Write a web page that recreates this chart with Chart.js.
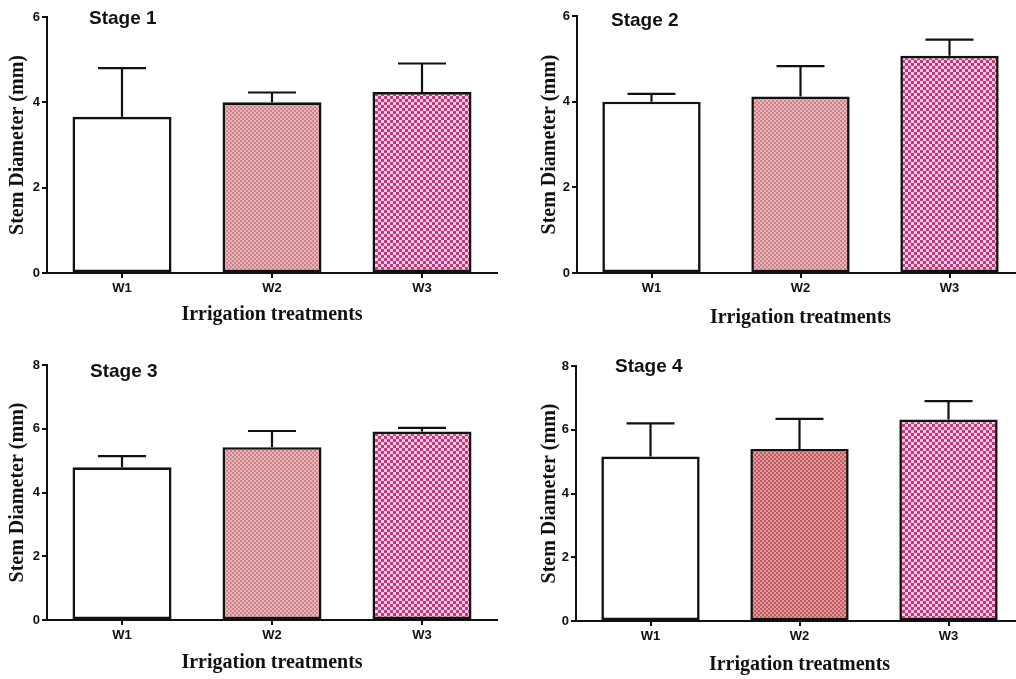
<!DOCTYPE html>
<html>
<head>
<meta charset="utf-8">
<script src="https://cdn.jsdelivr.net/npm/chart.js@4.4.1/dist/chart.umd.min.js"></script>
<style>
  html, body { margin: 0; padding: 0; background: #fff; overflow: hidden; width: 1016px; height: 679px; }
  .panel { position: absolute; }
</style>
</head>
<body>
<div class="panel" style="left:0;top:0;width:500px;height:330px"><canvas id="c1"></canvas></div>
<div class="panel" style="left:500px;top:0;width:530px;height:330px"><canvas id="c2"></canvas></div>
<div class="panel" style="left:0;top:340px;width:500px;height:339px"><canvas id="c3"></canvas></div>
<div class="panel" style="left:500px;top:340px;width:530px;height:339px"><canvas id="c4"></canvas></div>
<script>
// ---- data ----
const categories = ['W1', 'W2', 'W3'];
const stageTitles = ['Stage 1', 'Stage 2', 'Stage 3', 'Stage 4'];
const stage1Mean = [3.66, 4.00, 4.24];
const stage1SD   = [1.14, 0.23, 0.67];
const stage2Mean = [4.00, 4.12, 5.07];
const stage2SD   = [0.18, 0.71, 0.38];
const stage3Mean = [4.79, 5.42, 5.91];
const stage3SD   = [0.35, 0.51, 0.12];
const stage4Mean = [5.16, 5.40, 6.32];
const stage4SD   = [1.04, 0.94, 0.58];
const stageYMax  = [6, 6, 8, 8];
const yStep = 2;
const yTitle = 'Stem Diameter (mm)';
const xTitle = 'Irrigation treatments';

// ---- layout / style ----
const layouts = [
  { id: 'c1', w: 500, h: 330, pad: { left: 6, top: 17, right: 3, bottom: 3 }, yW: 41, xH: 54, tx: 42, ty: 24 },
  { id: 'c2', w: 530, h: 330, pad: { left: 38, top: 16, right: 6, bottom: 0 }, yW: 39, xH: 57, tx: 34, ty: 26 },
  { id: 'c3', w: 500, h: 339, pad: { left: 6, top: 25, right: 3, bottom: 4 }, yW: 41, xH: 55, tx: 43, ty: 37 },
  { id: 'c4', w: 530, h: 339, pad: { left: 38, top: 26, right: 7, bottom: 2 }, yW: 38, xH: 56, tx: 39, ty: 32 }
];

function checker(c1, c2, size) {
  const cv = document.createElement('canvas');
  cv.width = size * 2; cv.height = size * 2;
  const g = cv.getContext('2d');
  g.fillStyle = c1; g.fillRect(0, 0, size * 2, size * 2);
  g.fillStyle = c2; g.fillRect(0, 0, size, size); g.fillRect(size, size, size, size);
  return g.createPattern(cv, 'repeat');
}

const fillW1 = '#ffffff';
const fillW2 = checker('#eab4b8', '#c9838a', 2);
const fillW2dark = checker('#e39a9c', '#bf5a5f', 2);
const fillW3 = checker('#f8cce6', '#bf3a7a', 3);

const means = [stage1Mean, stage2Mean, stage3Mean, stage4Mean];
const sds = [stage1SD, stage2SD, stage3SD, stage4SD];
const fills = [
  [fillW1, fillW2, fillW3],
  [fillW1, fillW2, fillW3],
  [fillW1, fillW2, fillW3],
  [fillW1, fillW2dark, fillW3]
];

const errorBars = {
  id: 'errorBars',
  afterDatasetsDraw(chart, args, opts) {
    const ctx = chart.ctx;
    const meta = chart.getDatasetMeta(0);
    const y = chart.scales.y;
    const m = chart.data.datasets[0].data;
    ctx.save();
    ctx.strokeStyle = '#111';
    ctx.lineWidth = 2.2;
    ctx.lineCap = 'butt';
    meta.data.forEach((bar, i) => {
      const yb = y.getPixelForValue(m[i]);
      const yt = y.getPixelForValue(m[i] + opts.sd[i]);
      ctx.beginPath();
      ctx.moveTo(bar.x, yb);
      ctx.lineTo(bar.x, yt);
      ctx.moveTo(bar.x - 24, yt);
      ctx.lineTo(bar.x + 24, yt);
      ctx.stroke();
    });
    ctx.restore();
  }
};

const stageLabel = {
  id: 'stageLabel',
  afterDraw(chart, args, opts) {
    const ctx = chart.ctx;
    ctx.save();
    ctx.font = 'bold 19px "Liberation Sans", Arial, sans-serif';
    ctx.fillStyle = '#111';
    ctx.textBaseline = 'alphabetic';
    ctx.fillText(opts.text, chart.chartArea.left + opts.dx, opts.y);
    ctx.restore();
  }
};

layouts.forEach((L, k) => {
  const canvas = document.getElementById(L.id);
  canvas.parentNode.style.width = L.w + 'px';
  canvas.parentNode.style.height = L.h + 'px';
  new Chart(canvas, {
    type: 'bar',
    data: {
      labels: categories,
      datasets: [{
        data: means[k],
        backgroundColor: fills[k],
        borderColor: '#111',
        borderWidth: 2.6,
        borderSkipped: false,
        barPercentage: 0.66,
        categoryPercentage: 1.0
      }]
    },
    options: {
      responsive: true,
      maintainAspectRatio: false,
      animation: false,
      devicePixelRatio: 1,
      layout: { padding: L.pad },
      plugins: {
        legend: { display: false },
        tooltip: { enabled: false },
        errorBars: { sd: sds[k] },
        stageLabel: { text: stageTitles[k], dx: L.tx, y: L.ty }
      },
      scales: {
        x: {
          grid: { display: true, drawOnChartArea: false, drawTicks: true, tickLength: 5, color: '#111', lineWidth: 2, offset: false },
          border: { display: true, color: '#111', width: 2 },
          ticks: { color: '#111', padding: 3, font: { family: '"Liberation Sans", Arial, sans-serif', weight: 'bold', size: 13 } },
          title: { display: true, text: xTitle, color: '#111', padding: 0, font: { family: '"Liberation Serif", "Times New Roman", serif', weight: 'bold', size: 20 } },
          afterFit(s) { s.height = L.xH; }
        },
        y: {
          min: 0,
          max: stageYMax[k],
          grid: { display: true, drawOnChartArea: false, drawTicks: true, tickLength: 5, color: '#111', lineWidth: 2 },
          border: { display: true, color: '#111', width: 2 },
          ticks: { stepSize: yStep, color: '#111', padding: 2, font: { family: '"Liberation Sans", Arial, sans-serif', weight: 'bold', size: 13 } },
          title: { display: true, text: yTitle, color: '#111', padding: 0, font: { family: '"Liberation Serif", "Times New Roman", serif', weight: 'bold', size: 20 } },
          afterFit(s) { s.width = L.yW; }
        }
      }
    },
    plugins: [errorBars, stageLabel]
  });
});
</script>
</body>
</html>
